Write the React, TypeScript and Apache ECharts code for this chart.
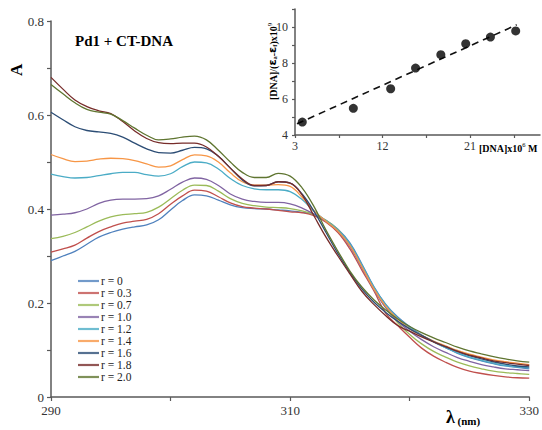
import React, { useEffect, useRef } from 'react';
import * as echarts from 'echarts';

const wavelengths = [290, 291, 292, 293, 294, 295, 296, 297, 298, 299, 300, 301, 302, 303, 304, 305, 306, 307, 308, 309, 310, 311, 312, 313, 314, 315, 316, 317, 318, 319, 320, 321, 322, 323, 324, 325, 326, 327, 328, 329, 330];

const seriesNames = ['r = 0', 'r = 0.3', 'r = 0.7', 'r = 1.0', 'r = 1.2', 'r = 1.4', 'r = 1.6', 'r = 1.8', 'r = 2.0'];
const seriesColors = ['#4F81BD', '#C0504D', '#9BBB59', '#8064A2', '#4BACC6', '#F79646', '#2C4D75', '#772C2A', '#5F7530'];

const r00 = [0.290, 0.300, 0.310, 0.325, 0.340, 0.350, 0.357, 0.362, 0.366, 0.377,
  0.398, 0.418, 0.430, 0.428, 0.419, 0.409, 0.403, 0.401, 0.400, 0.398,
  0.396, 0.393, 0.388, 0.376, 0.357, 0.328, 0.283, 0.235, 0.197, 0.170,
  0.150, 0.132, 0.117, 0.105, 0.093, 0.084, 0.077, 0.071, 0.066, 0.063, 0.060];
const r03 = [0.308, 0.315, 0.323, 0.338, 0.352, 0.362, 0.370, 0.374, 0.378, 0.390,
  0.410, 0.428, 0.440, 0.438, 0.426, 0.413, 0.405, 0.402, 0.400, 0.397,
  0.394, 0.392, 0.386, 0.372, 0.350, 0.315, 0.270, 0.226, 0.178, 0.152,
  0.127, 0.104, 0.087, 0.074, 0.063, 0.055, 0.050, 0.046, 0.043, 0.041, 0.040];
const r07 = [0.337, 0.342, 0.350, 0.362, 0.374, 0.383, 0.388, 0.390, 0.393, 0.404,
  0.422, 0.440, 0.451, 0.450, 0.438, 0.422, 0.412, 0.407, 0.404, 0.403,
  0.401, 0.396, 0.388, 0.376, 0.356, 0.323, 0.278, 0.231, 0.190, 0.158,
  0.133, 0.113, 0.097, 0.085, 0.074, 0.066, 0.060, 0.055, 0.052, 0.050, 0.048];
const r10 = [0.387, 0.389, 0.392, 0.400, 0.412, 0.419, 0.421, 0.421, 0.422, 0.428,
  0.442, 0.457, 0.466, 0.463, 0.450, 0.432, 0.421, 0.416, 0.414, 0.414,
  0.411, 0.402, 0.389, 0.374, 0.353, 0.320, 0.275, 0.229, 0.190, 0.161,
  0.140, 0.122, 0.107, 0.095, 0.084, 0.076, 0.069, 0.064, 0.060, 0.058, 0.056];
const r12 = [0.474, 0.469, 0.466, 0.467, 0.471, 0.475, 0.478, 0.478, 0.473, 0.470,
  0.475, 0.490, 0.500, 0.498, 0.485, 0.465, 0.450, 0.443, 0.441, 0.441,
  0.437, 0.420, 0.395, 0.375, 0.355, 0.326, 0.281, 0.234, 0.196, 0.168,
  0.148, 0.131, 0.117, 0.105, 0.094, 0.085, 0.078, 0.072, 0.067, 0.064, 0.062];
const r14 = [0.516, 0.507, 0.501, 0.502, 0.506, 0.508, 0.507, 0.503, 0.496, 0.489,
  0.492, 0.505, 0.515, 0.513, 0.500, 0.477, 0.458, 0.451, 0.451, 0.452,
  0.448, 0.425, 0.396, 0.374, 0.353, 0.322, 0.277, 0.230, 0.193, 0.166,
  0.145, 0.131, 0.119, 0.109, 0.099, 0.091, 0.085, 0.079, 0.075, 0.072, 0.069];
const r16 = [0.606, 0.590, 0.575, 0.567, 0.564, 0.561, 0.553, 0.540, 0.528, 0.520,
  0.519, 0.525, 0.531, 0.528, 0.512, 0.487, 0.462, 0.449, 0.450, 0.458,
  0.455, 0.432, 0.395, 0.350, 0.305, 0.265, 0.230, 0.202, 0.180, 0.161,
  0.145, 0.131, 0.118, 0.107, 0.097, 0.088, 0.081, 0.075, 0.070, 0.066, 0.064];
const r18 = [0.680, 0.655, 0.632, 0.618, 0.609, 0.603, 0.586, 0.566, 0.550, 0.541,
  0.539, 0.540, 0.540, 0.532, 0.512, 0.487, 0.464, 0.450, 0.450, 0.458,
  0.455, 0.430, 0.385, 0.340, 0.300, 0.262, 0.225, 0.197, 0.173, 0.152,
  0.140, 0.128, 0.117, 0.107, 0.097, 0.089, 0.083, 0.077, 0.073, 0.070, 0.067];
const r20 = [0.665, 0.645, 0.626, 0.612, 0.606, 0.602, 0.588, 0.572, 0.557, 0.547,
  0.549, 0.553, 0.555, 0.547, 0.525, 0.500, 0.478, 0.467, 0.467, 0.476,
  0.470, 0.445, 0.405, 0.355, 0.310, 0.268, 0.234, 0.207, 0.185, 0.166,
  0.150, 0.137, 0.126, 0.116, 0.106, 0.098, 0.092, 0.086, 0.081, 0.077, 0.074];

const absorbance = [r00, r03, r07, r10, r12, r14, r16, r18, r20];

// inset: [DNA] x 10^6 M vs [DNA]/(εa-εf) x 10^9
const dnaConc = [3.75, 9.0, 12.84, 15.4, 18.0, 20.56, 23.1, 25.7];
const dnaRatio = [4.72, 5.48, 6.57, 7.72, 8.46, 9.07, 9.44, 9.78];
const trendX = [3.2, 25.8];
const trendY = [4.62, 10.12];

const insetXTicks = [3, 7.5, 12, 16.5, 21, 25.5];
const insetXLabels = [3, 12, 21];

const FONT = "'Liberation Serif', 'Times New Roman', serif";
const AXIS_COLOR = '#595959';
const LABEL_COLOR = '#333333';

export default function App() {
  const ref = useRef<HTMLDivElement>(null);

  useEffect(() => {
    if (!ref.current) return;
    const chart = echarts.init(ref.current, undefined, { renderer: 'svg' });

    const lineSeries = absorbance.map((vals, i) => ({
      name: seriesNames[i],
      type: 'line',
      xAxisIndex: 0,
      yAxisIndex: 0,
      data: wavelengths.map((w, j) => [w, vals[j]]),
      symbol: 'none',
      showSymbol: false,
      smooth: 0.4,
      lineStyle: { color: seriesColors[i], width: 1.3 },
      itemStyle: { color: seriesColors[i] },
      z: 2 + i,
    }));

    const option: any = {
      animation: false,
      textStyle: { fontFamily: FONT },
      grid: [
        { left: 51, right: 8, top: 21, bottom: 33, containLabel: false },
        { left: 295, right: 2, top: 9, bottom: 430 - 135, containLabel: false },
      ],
      legend: {
        orient: 'vertical',
        left: 73,
        top: 270,
        icon: 'rect',
        itemWidth: 21,
        itemHeight: 2.2,
        itemGap: 0,
        data: seriesNames.map((n, i) => ({ name: n, itemStyle: { color: seriesColors[i], opacity: 0.8 } })),
        textStyle: { fontFamily: FONT, fontSize: 11.5, color: '#222', lineHeight: 11, padding: [0, 0, 0, -3] },
      },
      xAxis: [
        {
          type: 'value',
          gridIndex: 0,
          min: 290,
          max: 330,
          interval: 10,
          splitLine: { show: false },
          axisLine: { lineStyle: { color: AXIS_COLOR, width: 1.5 } },
          axisTick: { lineStyle: { color: AXIS_COLOR, width: 1.2 }, length: 4 },
          axisLabel: {
            margin: 7,
            color: LABEL_COLOR,
            fontFamily: FONT,
            fontSize: 13,
            formatter: (v: number) => (Math.round(v) % 20 === 10 ? String(v) : ''),
          },
        },
        {
          type: 'value',
          gridIndex: 1,
          min: 3,
          max: 28.2,
          splitLine: { show: false },
          axisLine: { lineStyle: { color: AXIS_COLOR, width: 1.5 } },
          axisTick: { customValues: insetXTicks, lineStyle: { color: AXIS_COLOR, width: 1.2 }, length: 3 },
          axisLabel: {
            customValues: insetXLabels,
            margin: 5,
            color: LABEL_COLOR,
            fontFamily: FONT,
            fontSize: 12,
          },
        },
      ],
      yAxis: [
        {
          type: 'value',
          gridIndex: 0,
          min: 0,
          max: 0.8,
          interval: 0.1,
          splitLine: { show: false },
          axisLine: { show: true, lineStyle: { color: AXIS_COLOR, width: 1.5 } },
          axisTick: { show: true, lineStyle: { color: AXIS_COLOR, width: 1.2 }, length: 4 },
          axisLabel: {
            margin: 7,
            color: LABEL_COLOR,
            fontFamily: FONT,
            fontSize: 13,
            formatter: (v: number) => {
              const k = Math.round(v * 10);
              return k % 2 === 0 ? String(k / 10) : '';
            },
          },
        },
        {
          type: 'value',
          gridIndex: 1,
          min: 4,
          max: 11,
          interval: 1,
          splitLine: { show: false },
          axisLine: { show: true, lineStyle: { color: AXIS_COLOR, width: 1.5 } },
          axisTick: { show: true, lineStyle: { color: AXIS_COLOR, width: 1.2 }, length: 3 },
          axisLabel: {
            margin: 7,
            color: LABEL_COLOR,
            fontFamily: FONT,
            fontSize: 12,
            formatter: (v: number) => (Math.round(v) % 2 === 0 ? String(v) : ''),
          },
        },
      ],
      series: [
        ...lineSeries,
        {
          name: 'fit',
          type: 'line',
          xAxisIndex: 1,
          yAxisIndex: 1,
          data: trendX.map((x, i) => [x, trendY[i]]),
          symbol: 'none',
          lineStyle: { color: '#111', width: 1.6, type: [7, 5] },
          z: 20,
        },
        {
          name: 'points',
          type: 'scatter',
          xAxisIndex: 1,
          yAxisIndex: 1,
          data: dnaConc.map((x, i) => [x, dnaRatio[i]]),
          symbol: 'circle',
          symbolSize: 9,
          itemStyle: { color: '#000' },
          z: 21,
        },
      ],
      graphic: [
        {
          type: 'text',
          left: 75,
          top: 33,
          style: { text: 'Pd1 + CT-DNA', font: `bold 15px ${FONT}`, fill: '#000' },
        },
        {
          type: 'text',
          x: 8,
          y: 76,
          rotation: Math.PI / 2,
          style: { text: 'A', font: `bold 17px ${FONT}`, fill: '#000' },
        },
        {
          type: 'text',
          left: 446,
          top: 408,
          style: {
            text: '{l|λ}{n| (nm)}',
            rich: {
              l: { font: `bold 18px ${FONT}`, fill: '#000', verticalAlign: 'bottom' },
              n: { font: `bold 11px ${FONT}`, fill: '#000', verticalAlign: 'bottom', padding: [0, 0, 0, 0] },
            },
          },
        },
        {
          type: 'text',
          x: 266,
          y: 100,
          rotation: Math.PI / 2,
          style: {
            text: '{b|[DNA]/(}{e|ε}{s|a}{b|-}{e|ε}{s|f}{b|)x10}{p|9}',
            rich: {
              b: { font: `bold 10px ${FONT}`, fill: '#000', verticalAlign: 'bottom', lineHeight: 12 },
              e: { font: `bold 11px 'DejaVu Sans', sans-serif`, fill: '#000', verticalAlign: 'bottom', lineHeight: 12 },
              s: { font: `bold 6.5px ${FONT}`, fill: '#000', verticalAlign: 'bottom', lineHeight: 12 },
              p: { font: `7px ${FONT}`, fill: '#000', verticalAlign: 'top', lineHeight: 12 },
            },
          },
        },
        {
          type: 'text',
          left: 479,
          top: 141,
          style: {
            text: '{b|[DNA]x10}{p|6}{b| M}',
            rich: {
              b: { font: `bold 10px ${FONT}`, fill: '#000', verticalAlign: 'bottom', lineHeight: 12 },
              p: { font: `6.5px ${FONT}`, fill: '#000', verticalAlign: 'top', lineHeight: 12 },
            },
          },
        },
      ],
    };

    chart.setOption(option);
    return () => chart.dispose();
  }, []);

  return <div ref={ref} style={{ width: 542, height: 430, position: 'absolute', left: 0, top: 0 }} />;
}
